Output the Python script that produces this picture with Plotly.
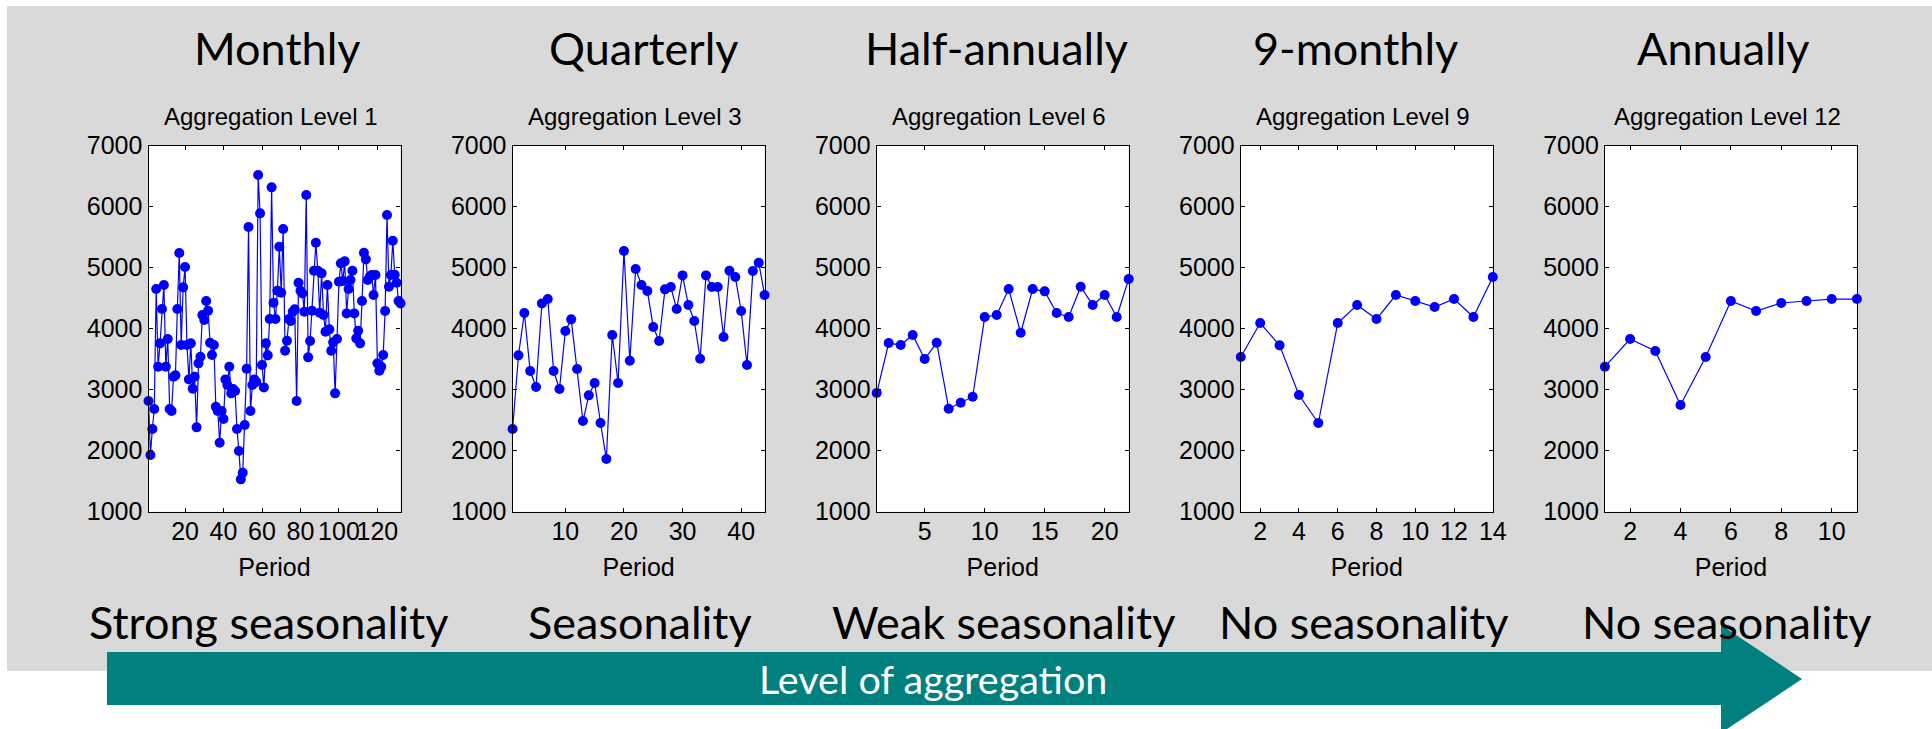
import plotly.graph_objects as go

W, H = 1932, 729

# ---------------- data ----------------
monthly = [2814, 1929, 2355, 2683, 4650, 3377, 3760, 4322, 4716, 3377,
           3831, 2683, 2650, 3213, 3235, 4322, 5240, 3732, 4678, 5011,
           3732, 3169, 3760, 3016, 3213, 2383, 3432, 3541, 4224, 4142,
           4454, 4295, 3770, 3568, 3732, 2721, 2650, 2131, 2650, 2519,
           3169, 3077, 3377, 2940, 3010, 2978, 2355, 1995, 1530, 1639,
           2421, 3344, 5667, 2650, 3077, 3169, 3126, 6519, 5891, 3404,
           3038, 3760, 3563, 4158, 6317, 4426, 4158, 4623, 5344, 4590,
           5634, 3639, 3803, 4158, 4126, 4279, 4317, 2814, 4754, 4623,
           4579, 4279, 6191, 3530, 3798, 4295, 4951, 5410, 4951, 4262,
           4907, 4224, 3951, 4716, 3989, 3639, 3776, 2940, 3831, 4771,
           5071, 4781, 5104, 4251, 4650, 4798, 4951, 4251, 3842, 3967,
           3760, 4454, 5246, 5137, 4798, 4852, 4880, 4552, 4880, 3432,
           3311, 3377, 3568, 4290, 5863, 4689, 4880, 5443, 4885, 4754,
           4454, 4415]
quarterly = [2355, 3563, 4257, 3306, 3044, 4415, 4486, 3306, 3011, 3962,
             4153, 3339, 2486, 2907, 3109, 2454, 1863, 3896, 3109, 5273,
             3475, 4978, 4716, 4617, 4027, 3798, 4645, 4683, 4322, 4874,
             4388, 4126, 3508, 4874, 4683, 4683, 3863, 4951, 4847, 4290,
             3404, 4945, 5082, 4552]
half_annual = [2945, 3765, 3732, 3896, 3503, 3770, 2689, 2787, 2885, 4191,
               4224, 4650, 3934, 4650, 4612, 4257, 4191, 4689, 4388, 4552,
               4191, 4814]
nine_monthly = [3536, 4093, 3727, 2913, 2454, 4093, 4388, 4158, 4552, 4454,
                4355, 4486, 4191, 4847]
annual = [3377, 3831, 3634, 2749, 3536, 4454, 4290, 4421, 4454, 4486, 4486]

series = [monthly, quarterly, half_annual, nine_monthly, annual]
titles = ["Monthly", "Quarterly", "Half-annually", "9-monthly", "Annually"]
subtitles = ["Aggregation Level 1", "Aggregation Level 3", "Aggregation Level 6",
             "Aggregation Level 9", "Aggregation Level 12"]
seasonality = ["Strong seasonality", "Seasonality", "Weak seasonality",
               "No seasonality", "No seasonality"]
x_ticks = [[20, 40, 60, 80, 100, 120], [10, 20, 30, 40], [5, 10, 15, 20],
           [2, 4, 6, 8, 10, 12, 14], [2, 4, 6, 8, 10]]
y_ticks = [1000, 2000, 3000, 4000, 5000, 6000, 7000]
x_label = "Period"
arrow_label = "Level of aggregation"

# ---------------- layout (pixel positions -> paper fractions) ----------------
def px(x):
    return x / W

def py(y):
    return 1 - y / H

LEFT0, PITCH, PW = 148.5, 364.1, 252.0
TOP, BOTTOM = 145.7, 511.7
TITLE_X = [276.6, 643.8, 996.8, 1355.3, 1723.8]
SEASON_X = [268.0, 640.0, 1004.0, 1364.0, 1727.0]
BLUE = "#0000ff"
TEAL = "#00807f"
GRAY = "#d9d9d9"
AX_FONT = dict(family="Liberation Sans, Arial, sans-serif", size=25, color="black")
SLIDE_FONT = "Lato, Carlito, Calibri, sans-serif"

fig = go.Figure()
shapes = [dict(type="rect", xref="paper", yref="paper",
               x0=px(7), x1=1.0, y0=py(671), y1=py(6),
               fillcolor=GRAY, line=dict(width=0), layer="below")]
annotations = []
layout = {}

for k, s in enumerate(series):
    sfx = "" if k == 0 else str(k + 1)
    xs = list(range(1, len(s) + 1))
    fig.add_trace(go.Scatter(
        x=xs, y=s, mode="lines+markers", cliponaxis=False,
        line=dict(color=BLUE, width=1.2),
        marker=dict(color=BLUE, size=10),
        xaxis="x" + sfx, yaxis="y" + sfx, showlegend=False, hoverinfo="x+y"))
    x0 = LEFT0 + k * PITCH
    x1 = x0 + PW
    common = dict(showline=True, linecolor="black", linewidth=1.2, mirror="ticks",
                  ticks="inside", ticklen=4, tickwidth=1, tickcolor="black",
                  showgrid=False, zeroline=False, tickfont=AX_FONT, tickangle=0,
                  automargin=False)
    layout["xaxis" + sfx] = dict(common, domain=[px(x0), px(x1)], anchor="y" + sfx,
                                 range=[1, len(s)], tickmode="array", tickvals=x_ticks[k],
                                 ticklabelstandoff=-3,
                                 title=dict(text=x_label, font=AX_FONT, standoff=14))
    layout["yaxis" + sfx] = dict(common, domain=[py(BOTTOM), py(TOP)], anchor="x" + sfx,
                                 range=[1000, 7000], tickmode="array", tickvals=y_ticks)
    shapes.append(dict(type="rect", xref="x" + sfx + " domain", yref="y" + sfx + " domain",
                       x0=0, x1=1, y0=0, y1=1, fillcolor="white",
                       line=dict(width=0), layer="below"))
    cx = (x0 + x1) / 2
    annotations.append(dict(text=titles[k], x=px(TITLE_X[k]), y=py(48), xref="paper",
                            yref="paper", showarrow=False, xanchor="center",
                            yanchor="middle",
                            font=dict(family=SLIDE_FONT, size=45, color="black")))
    annotations.append(dict(text=subtitles[k], x=px(cx - 3.5), y=py(116.5), xref="paper",
                            yref="paper", showarrow=False, xanchor="center",
                            yanchor="middle", font=dict(family=AX_FONT["family"], size=24,
                                                        color="black")))
    annotations.append(dict(text=seasonality[k], x=px(SEASON_X[k]), y=py(622),
                            xref="paper", yref="paper", showarrow=False,
                            xanchor="center", yanchor="middle",
                            font=dict(family=SLIDE_FONT, size=45, color="black")))

# teal arrow
path = ("M {a},{b} L {c},{b} L {c},{d} L {e},{f} L {c},{g} L {c},{h} L {a},{h} Z"
        .format(a=px(107), b=py(652), c=px(1721), d=py(625), e=px(1802), f=py(679),
                g=py(733), h=py(705)))
shapes.append(dict(type="path", path=path, xref="paper", yref="paper",
                   fillcolor=TEAL, line=dict(width=0), layer="above"))
annotations.append(dict(text=arrow_label, x=px(933), y=py(678), xref="paper", yref="paper",
                        showarrow=False, xanchor="center", yanchor="middle",
                        font=dict(family=SLIDE_FONT, size=39.5, color="white")))

fig.update_layout(width=W, height=H,
                  margin=dict(l=0, r=0, t=0, b=0, pad=0, autoexpand=False),
                  paper_bgcolor="white", plot_bgcolor="white",
                  shapes=shapes, annotations=annotations, **layout)

fig.write_html("out.html", config={"displayModeBar": False},
               post_script="document.body.style.margin='0';")
